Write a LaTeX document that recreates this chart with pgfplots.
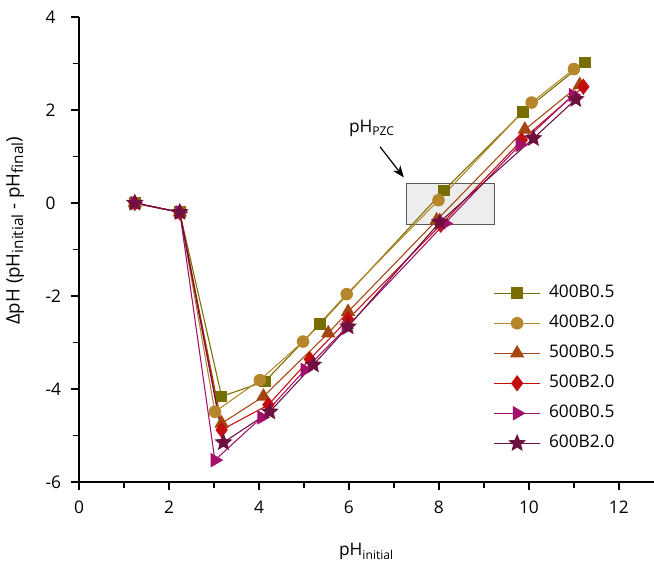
\documentclass[border=0pt]{standalone}
\usepackage{fontspec}
\setmainfont{Open Sans}
\usepackage{pgfplots}
\pgfplotsset{compat=1.18}
\usetikzlibrary{arrows.meta}
\definecolor{cA}{HTML}{786E00}
\definecolor{cB}{HTML}{B5862A}
\definecolor{cC}{HTML}{A4470F}
\definecolor{cD}{HTML}{C40D0D}
\definecolor{cE}{HTML}{A3106B}
\definecolor{cF}{HTML}{6E1040}
\newcommand\ysub[1]{\raisebox{-0.35ex}{\fontsize{11.5}{12}\selectfont #1}}
\pgfdeclareplotmark{fstar}{%
 \pgfpathmoveto{\pgfpointpolar{90}{\pgfplotmarksize}}%
 \pgfpathlineto{\pgfpointpolar{126}{0.45\pgfplotmarksize}}%
 \pgfpathlineto{\pgfpointpolar{162}{\pgfplotmarksize}}%
 \pgfpathlineto{\pgfpointpolar{198}{0.45\pgfplotmarksize}}%
 \pgfpathlineto{\pgfpointpolar{234}{\pgfplotmarksize}}%
 \pgfpathlineto{\pgfpointpolar{270}{0.45\pgfplotmarksize}}%
 \pgfpathlineto{\pgfpointpolar{306}{\pgfplotmarksize}}%
 \pgfpathlineto{\pgfpointpolar{342}{0.45\pgfplotmarksize}}%
 \pgfpathlineto{\pgfpointpolar{18}{\pgfplotmarksize}}%
 \pgfpathlineto{\pgfpointpolar{54}{0.45\pgfplotmarksize}}%
 \pgfpathclose\pgfusepathqfillstroke}
\begin{document}
\begin{tikzpicture}
\begin{axis}[
 scale only axis, width=431.25pt, height=348.75pt,
 xmin=0, xmax=12.78, ymin=-6, ymax=4,
 axis lines=left, axis line style={-, line width=0.9pt},
 xtick={0,2,...,12}, ytick={-6,-4,...,4},
 minor xtick={1,3,...,11}, minor ytick={-5,-3,...,3},
 tick align=outside, major tick length=6pt, minor tick length=4.5pt,
 major tick style={black, line width=0.9pt},
 minor tick style={black, line width=0.9pt},
 /pgf/number format/assume math mode=true,
 ticklabel style={font=\fontsize{13}{15}\selectfont},
 yticklabel={\makebox[12pt][l]{\pgfmathprintnumber{\tick}}},
 yticklabel shift=3.5pt,
 xticklabel shift=5pt,
 xlabel={pH\textsubscript{initial}},
 ylabel={ΔpH (pH\ysub{initial} - pH\ysub{final})},
 xlabel style={font=\fontsize{13}{15}\selectfont, at={(axis description cs:0.5,0)}, anchor=base, yshift=-55pt},
 ylabel style={font=\fontsize{14}{16}\selectfont, at={(axis description cs:-0.111,0.54)}, anchor=center},
 legend style={draw=none, fill=none, at={(0.72,0.425)}, anchor=north west,
   font=\fontsize{13}{15}\selectfont, inner sep=0pt, /tikz/column sep=6pt,
   nodes={inner sep=0pt, text height=10pt, text depth=3pt}, row sep=9.5pt},
 legend cell align=left,
 legend image code/.code={\draw[mark repeat=2, mark phase=2] plot coordinates {(0pt,0pt) (17.5pt,0pt) (35pt,0pt)};},
 every axis plot/.append style={line width=0.8pt},
 clip=false,
]
\draw[fill=black!7, draw=black!65, line width=0.8pt] (axis cs:7.27,-0.47) rectangle (axis cs:9.24,0.42);
\addplot[color=cA, mark=square*, mark size=4pt, mark options={solid, fill=cA}] coordinates {
 (1.24,0) (2.24,-0.2) (3.17,-4.16) (4.13,-3.84) (5.36,-2.6) (8.11,0.27) (9.87,1.96) (11.24,3.02)};
\addlegendentry{400B0.5}
\addplot[color=cB, mark=*, mark size=4.3pt, mark options={solid, fill=cB}] coordinates {
 (1.24,0) (2.24,-0.2) (3.02,-4.49) (4.02,-3.81) (4.98,-2.98) (5.95,-1.96) (7.99,0.06) (10.06,2.16) (11.0,2.88)};
\addlegendentry{400B2.0}
\addplot[color=cC, mark=triangle*, mark size=5.5pt, mark options={solid, fill=cC}] coordinates {
 (1.24,0) (2.24,-0.2) (3.17,-4.74) (4.1,-4.16) (5.54,-2.8) (5.98,-2.34) (7.95,-0.37) (9.91,1.58) (11.13,2.54)};
\addlegendentry{500B0.5}
\addplot[color=cD, mark=diamond*, mark size=5.5pt, mark options={solid, fill=cD}] coordinates {
 (1.24,0) (2.24,-0.2) (3.17,-4.88) (4.21,-4.34) (5.13,-3.36) (5.98,-2.5) (8.04,-0.47) (9.84,1.35) (11.21,2.5)};
\addlegendentry{500B2.0}
\addplot[color=cE, mark=triangle*, mark size=5.5pt, mark options={solid, fill=cE, rotate=-90}] coordinates {
 (1.24,0) (2.24,-0.2) (3.02,-5.53) (4.06,-4.61) (5.02,-3.59) (5.93,-2.69) (8.13,-0.44) (9.8,1.25) (10.98,2.32)};
\addlegendentry{600B0.5}
\addplot[color=cF, mark=fstar, mark size=6pt, mark options={solid, fill=cF}] coordinates {
 (1.24,0) (2.24,-0.2) (3.21,-5.15) (4.24,-4.49) (5.21,-3.48) (5.98,-2.66) (8.02,-0.41) (10.1,1.39) (11.04,2.23)};
\addlegendentry{600B2.0}
\draw[-{Stealth[length=9pt, width=7pt]}, line width=0.9pt] (axis cs:6.69,1.21) -- (axis cs:7.22,0.55);
\node[font=\fontsize{13}{15}\selectfont] at (axis cs:6.51,1.61) {pH\textsubscript{PZC}};
\end{axis}
\pgfresetboundingbox
\path (-59.25pt,-63pt) rectangle (431.25pt,361.5pt);
\end{tikzpicture}
\end{document}
